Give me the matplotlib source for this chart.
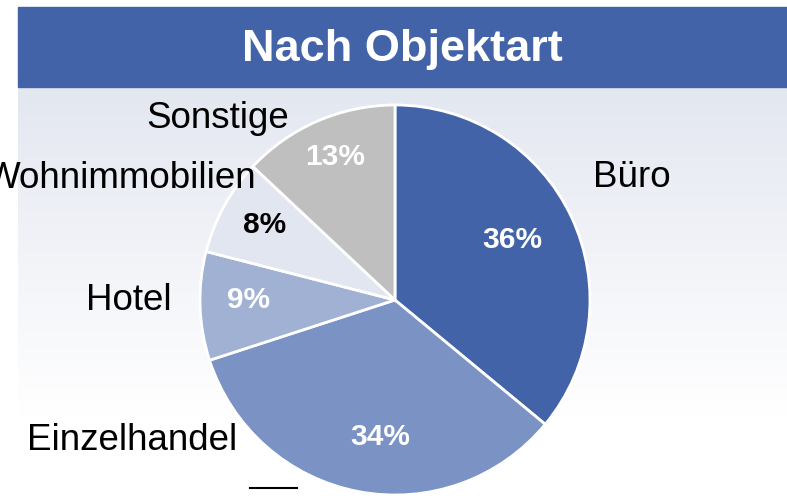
import numpy as np
import matplotlib.pyplot as plt
from matplotlib.patches import Rectangle

plt.rcParams['font.family'] = ['Liberation Sans', 'DejaVu Sans']

categories = ['Büro', 'Einzelhandel', 'Hotel', 'Wohnimmobilien', 'Sonstige']
shares = [36, 34, 9, 8, 13]
colors = ['#4263A7', '#7A92C4', '#A1B1D4', '#E2E6F0', '#BFBFBF']
pct_colors = ['white', 'white', 'white', 'black', 'white']

W, H = 787, 498
fig = plt.figure(figsize=(W / 100, H / 100), dpi=100)

# background: white page, blue title bar, soft gradient panel
bg = fig.add_axes([0, 0, 1, 1])
bg.set_xlim(0, W)
bg.set_ylim(H, 0)
bg.axis('off')
top = np.array([0xE3, 0xE7, 0xF0]) / 255
t = np.clip(np.linspace(0, 1, 200) / 0.8, 0, 1)[:, None]
grad = top * (1 - t) + np.ones(3) * t
bg.imshow(grad[:, None, :], extent=[18, W, H, 87], aspect='auto', zorder=0)
bg.add_patch(Rectangle((18, 7), W - 18, 80, color='#4263A7', zorder=1))
bg.text(402, 49, 'Nach Objektart', color='white', fontsize=32.5,
        fontweight='bold', ha='center', va='center', zorder=2)
bg.plot([250, 297], [488, 488], color='black', lw=1.5, zorder=2)

# pie
cx, cy, r = 395, 300, 195
ax = fig.add_axes([(cx - r) / W, (H - cy - r) / H, 2 * r / W, 2 * r / H])
ax.pie(shares, colors=colors, startangle=90, counterclock=False,
       wedgeprops=dict(edgecolor='white', linewidth=2))
ax.set_xlim(-1, 1)
ax.set_ylim(-1, 1)
ax.set_aspect('equal')

# overlay for text on top of the pie
ov = fig.add_axes([0, 0, 1, 1])
ov.set_xlim(0, W)
ov.set_ylim(H, 0)
ov.axis('off')

pct_pos = [(512, 240), (380, 437), (249, 300), (265, 225), (335, 157)]
for s, (px, py), c in zip(shares, pct_pos, pct_colors):
    ov.text(px, py, f'{s}%', color=c, fontsize=21.5, fontweight='bold',
            ha='center', va='center')

label_pos = [(632, 177, 'center'), (132, 440, 'center'), (129, 300, 'center'),
             (256, 178, 'right'), (218, 118, 'center')]
for name, (lx, ly, ha) in zip(categories, label_pos):
    ov.text(lx, ly, name, color='black', fontsize=26.5, ha=ha, va='center')

fig.savefig('out.png', dpi=100)
